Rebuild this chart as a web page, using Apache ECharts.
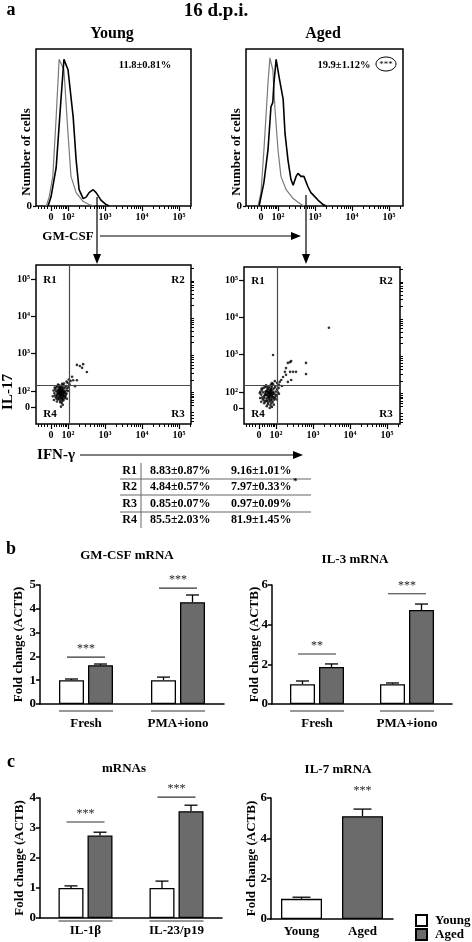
<!DOCTYPE html>
<html><head><meta charset="utf-8">
<script src="https://cdn.jsdelivr.net/npm/echarts@6/dist/echarts.min.js"></script>
<style>html,body{margin:0;padding:0;background:#fff}#c{width:472px;height:942px}</style>
</head><body><div id="c"></div>
<script>
const FONT = "'Liberation Serif','Times New Roman',serif";

// ---------- Panel a : GM-CSF histograms (x: log decades, y: % of max) ----------
const histYoungIso = [[1.41,0],[1.49,6],[1.59,20],[1.68,60],[1.76,99],[1.81,100],[1.89,92],[2.00,49],[2.08,20],[2.22,9],[2.41,3],[2.57,1],[2.70,0]];
const histYoungStain = [[1.46,0],[1.54,6],[1.68,26],[1.81,72],[1.89,99],[1.92,100],[2.00,92],[2.14,60],[2.22,31],[2.30,11],[2.41,5],[2.49,6],[2.57,9],[2.68,11],[2.76,9],[2.89,4],[3.03,1],[3.11,0]];
const histAgedIso = [[1.46,0],[1.54,9],[1.62,38],[1.73,83],[1.78,100],[1.86,92],[1.92,65],[2.00,38],[2.08,20],[2.22,11],[2.41,5],[2.57,2],[2.70,0]];
const histAgedStain = [[1.49,0],[1.62,16],[1.73,38],[1.81,67],[1.86,70],[1.89,83],[1.95,99],[1.97,100],[2.03,87],[2.14,72],[2.19,49],[2.27,31],[2.35,18],[2.41,14],[2.49,20],[2.54,22],[2.62,20],[2.70,20],[2.81,13],[2.89,9],[2.97,7],[3.08,4],[3.22,1],[3.30,0]];
const histPct = ['11.8\u00b10.81%', '19.9\u00b11.12%'];

// flow axis ticks
const flowTickVals = [1.54, 2, 3, 4, 5];
const flowTickLabels = ['0', '10\u00b2', '10\u00b3', '10\u2074', '10\u2075'];
const dotYTickVals = [1.57, 2, 3, 4, 5];
const linMinor = [1.2, 1.28, 1.36, 1.44, 1.62, 1.69, 1.76, 1.82, 1.87, 1.92, 1.96];
const logMult = [2, 3, 4, 5, 6, 7, 8, 9];

// ---------- Panel a : IL-17 vs IFN-g dot plots (log decades) ----------
const dotYoung = [[1.82,1.96],[1.78,2.01],[1.86,1.91],[1.75,1.94],[1.89,1.99],[1.80,1.88],[1.84,2.05],[1.73,2.03],[1.87,1.84],[1.70,1.90],
[1.92,1.95],[1.79,2.08],[1.76,1.85],[1.85,1.98],[1.81,1.93],[1.72,1.97],[1.90,1.87],[1.83,2.02],[1.77,2.10],[1.88,2.06],
[1.68,1.99],[1.94,2.01],[1.80,2.13],[1.74,1.81],[1.86,1.79],[1.79,1.91],[1.91,2.09],[1.66,2.05],[1.83,1.89],[1.77,1.95],
[1.96,1.93],[1.84,1.82],[1.71,1.86],[1.80,2.00],[1.88,1.94],[1.69,2.10],[1.85,2.11],[1.76,2.15],[1.93,1.85],[1.82,1.78],
[1.63,1.94],[1.98,2.07],[1.73,1.77],[1.87,2.16],[1.67,1.83],[1.85,1.73],[1.81,2.04],[1.74,2.00],[1.90,1.97],[1.78,1.89],
[1.65,1.88],[1.95,2.13],[1.79,1.74],[1.71,2.13],[1.92,1.81],[1.76,2.06],[1.84,2.19],[1.61,2.01],[2.00,2.00],[1.80,1.82],
[1.88,1.76],[1.69,1.79],[1.94,1.90],[1.73,2.17],[2.02,2.11],[1.79,1.70],[1.64,2.09],[1.89,2.20],[1.77,1.79],[1.83,1.68],
[1.86,2.00],[1.75,1.92],[1.81,1.86],[1.78,1.98],[1.84,1.94],[1.87,1.88],[1.72,1.93],[1.80,1.96],[1.83,2.08],[1.76,2.03],
[1.59,1.86],[1.97,1.79],[1.86,1.63],[1.70,1.72],[1.81,1.58],[1.62,1.76],
[1.99,2.22],[2.04,2.18],[1.96,2.25],[2.07,2.27],[2.02,2.31],[2.11,2.38],[2.14,2.29],[2.24,2.29],[2.19,2.13],
[2.24,2.70],[2.32,2.67],[2.41,2.72],[2.38,2.62],[2.51,2.51]];
const dotAged = [[1.84,1.95],[1.79,2.00],[1.89,1.90],[1.75,1.93],[1.92,1.99],[1.81,1.86],[1.86,2.05],[1.72,2.02],[1.90,1.83],[1.68,1.89],
[1.96,1.94],[1.80,2.09],[1.76,1.83],[1.87,1.97],[1.83,1.91],[1.71,1.96],[1.94,1.86],[1.85,2.02],[1.77,2.11],[1.91,2.06],
[1.65,1.99],[1.99,2.01],[1.82,2.14],[1.74,1.78],[1.88,1.77],[1.80,1.90],[1.95,2.10],[1.62,2.06],[1.85,1.87],[1.78,1.95],
[2.01,1.92],[1.86,1.80],[1.69,1.84],[1.82,2.00],[1.90,1.94],[1.66,2.11],[1.88,2.12],[1.75,2.16],[1.97,1.83],[1.83,1.75],
[1.60,1.93],[2.03,2.07],[1.71,1.74],[1.89,2.17],[1.64,1.81],[1.87,1.70],[1.84,2.04],[1.73,2.00],[1.93,1.97],[1.79,1.87],
[1.63,1.86],[1.98,2.14],[1.79,1.71],[1.70,2.13],[1.95,1.79],[1.77,2.06],[1.86,2.20],[1.58,2.01],[2.05,1.99],[1.81,1.80],
[1.91,1.73],[1.67,1.77],[1.99,1.88],[1.73,2.18],[2.07,2.11],[1.78,1.67],[1.61,2.09],[1.92,2.21],[1.76,1.76],[1.85,1.64],
[1.88,2.00],[1.74,1.91],[1.82,1.84],[1.80,1.98],[1.87,1.93],[1.90,1.88],[1.70,1.92],[1.83,1.96],[1.86,2.08],[1.76,2.03],
[1.57,1.84],[2.02,1.80],[1.89,1.60],[1.68,1.70],[1.83,1.57],[1.60,1.74],[1.94,1.66],[1.75,1.62],[2.08,1.95],[1.56,1.97],
[2.08,2.19],[2.03,2.24],[2.16,2.16],[1.97,2.29],[1.89,2.24],[2.10,2.27],
[1.92,2.99],[2.14,2.32],[2.19,2.40],[2.24,2.54],[2.27,2.64],[2.32,2.78],[2.38,2.80],[2.41,2.83],[2.27,2.46],[2.38,2.54],
[2.46,2.54],[2.54,2.54],[2.32,2.27],[2.41,2.32],[2.81,2.78],[2.81,2.48],[3.43,3.72]];
const gateYoung = {x: 2.03, y: 2.16};
const gateAged = {x: 2.03, y: 2.19};

// quadrant table
const tableRows = ['R1', 'R2', 'R3', 'R4'];
const tableYoung = ['8.83\u00b10.87%', '4.84\u00b10.57%', '0.85\u00b10.07%', '85.5\u00b12.03%'];
const tableAged = ['9.16\u00b11.01%', '7.97\u00b10.33%', '0.97\u00b10.09%', '81.9\u00b11.45%'];
const tableAgedMark = ['', '*', '', ''];

// ---------- Panel b ----------
const bCats = ['Fresh', 'PMA+iono'];
const gmYoung = [1.0, 1.0], gmYoungErr = [0.05, 0.13];
const gmAged = [1.63, 4.28], gmAgedErr = [0.05, 0.30];
const gmSig = [[0, 1.97, '***'], [1, 4.87, '***']];
const il3Young = [1.0, 1.0], il3YoungErr = [0.16, 0.06];
const il3Aged = [1.87, 4.74], il3AgedErr = [0.15, 0.30];
const il3Sig = [[0, 2.52, '**'], [1, 5.56, '***']];

// ---------- Panel c ----------
const cCats = ['IL-1\u03b2', 'IL-23/p19'];
const mYoung = [1.0, 1.0], mYoungErr = [0.07, 0.23];
const mAged = [2.75, 3.56], mAgedErr = [0.11, 0.20];
const mSig = [[0, 3.2, '***'], [1, 4.03, '***']];
const il7Cats = ['Young', 'Aged'];
const il7Vals = [1.0, 5.1], il7Err = [0.08, 0.35];
const il7Sig = [[1, 5.94, '***']];

// ================= build option =================
const AGED_COLOR = '#6b6b6b';
const grids = [
  {left: 36, top: 49, width: 155, height: 157, show: true, borderColor: '#000', borderWidth: 1.5},
  {left: 246, top: 49, width: 157, height: 157, show: true, borderColor: '#000', borderWidth: 1.5},
  {left: 36, top: 265, width: 155, height: 159, show: true, borderColor: '#000', borderWidth: 1.5},
  {left: 244, top: 267, width: 156, height: 157, show: true, borderColor: '#000', borderWidth: 1.5},
  {left: 40, top: 585, width: 184, height: 119},
  {left: 272, top: 585, width: 180, height: 119},
  {left: 40, top: 798, width: 182, height: 120},
  {left: 271, top: 798, width: 122, height: 121}
];
const xAxes = [], yAxes = [], series = [];
const lblStyle = {fontFamily: FONT, fontWeight: 'bold', color: '#000'};
function minorList(min, max) {
  const out = linMinor.slice();
  [2, 3, 4, 5].forEach(d => logMult.forEach(k => out.push(d + Math.log10(k))));
  return out.filter(v => v > min && v < max);
}
function flowLabel(v) { const i = flowTickVals.indexOf(v); return i >= 0 ? flowTickLabels[i] : ''; }
function dotYLabel(v) { const i = dotYTickVals.indexOf(v); return i >= 0 ? flowTickLabels[i] : ''; }
function addFlowX(gi, min, max) {
  xAxes.push({type: 'value', gridIndex: gi, min, max, position: 'bottom', axisLine: {show: false}, splitLine: {show: false},
    axisTick: {show: true, customValues: flowTickVals, length: 5, lineStyle: {color: '#000', width: 1.2}},
    axisLabel: Object.assign({show: true, customValues: flowTickVals, formatter: flowLabel, fontSize: 10, margin: 6}, lblStyle)});
  const main = xAxes.length - 1;
  xAxes.push({type: 'value', gridIndex: gi, min, max, position: 'bottom', axisLine: {show: false}, splitLine: {show: false},
    axisTick: {show: true, customValues: minorList(min, max), length: 3, lineStyle: {color: '#000', width: 1}}, axisLabel: {show: false}});
  return main;
}
function addDotY(gi, min, max) {
  yAxes.push({type: 'value', gridIndex: gi, min, max, axisLine: {show: false}, splitLine: {show: false},
    axisTick: {show: true, customValues: dotYTickVals, length: 5, lineStyle: {color: '#000', width: 1.2}},
    axisLabel: Object.assign({show: true, customValues: dotYTickVals, formatter: dotYLabel, fontSize: 10, margin: 6}, lblStyle)});
  const main = yAxes.length - 1;
  yAxes.push({type: 'value', gridIndex: gi, min, max, axisLine: {show: false}, splitLine: {show: false},
    axisTick: {show: true, customValues: minorList(min, max), length: 3, lineStyle: {color: '#000', width: 1}}, axisLabel: {show: false}});
  return main;
}
function addHistY(gi) {
  yAxes.push({type: 'value', gridIndex: gi, min: 0, max: 106, axisLine: {show: false}, splitLine: {show: false},
    axisTick: {show: true, customValues: [0], length: 3, lineStyle: {color: '#000', width: 1.2}},
    axisLabel: Object.assign({show: true, customValues: [0], fontSize: 11, margin: 4}, lblStyle)});
  return yAxes.length - 1;
}
function lineSeries(xi, yi, data, color, w) {
  return {type: 'line', xAxisIndex: xi, yAxisIndex: yi, data, showSymbol: false, smooth: false, silent: true,
    lineStyle: {color, width: w}, z: color === '#000' ? 3 : 2};
}
// histograms
[[0, 5.324, histYoungIso, histYoungStain], [1, 5.38, histAgedIso, histAgedStain]].forEach(([gi, max, iso, st]) => {
  const xi = addFlowX(gi, 1.135, max);
  const yi = addHistY(gi);
  series.push(lineSeries(xi, yi, iso, '#7a7a7a', 1.2));
  series.push(lineSeries(xi, yi, st, '#000', 1.6));
});
// dot plots
[[2, 5.324, 1.115, 5.378, dotYoung, gateYoung], [3, 5.35, 1.142, 5.35, dotAged, gateAged]].forEach(([gi, xmax, ymin, ymax, pts, gate]) => {
  const xi = addFlowX(gi, 1.135, xmax);
  const yi = addDotY(gi, ymin, ymax);
  series.push({type: 'scatter', xAxisIndex: xi, yAxisIndex: yi, data: pts, symbolSize: 2.6, silent: true,
    itemStyle: {color: '#000'},
    markLine: {silent: true, symbol: 'none', label: {show: false}, animation: false,
      lineStyle: {color: '#4a4a4a', width: 1.2, type: 'solid'},
      data: [{xAxis: gate.x}, {yAxis: gate.y}]}});
});
// bar charts
function addBarAxes(gi, cats, max, interval, nameGap, labelMargin) {
  xAxes.push({type: 'category', gridIndex: gi, data: cats, axisTick: {show: false},
    axisLine: {lineStyle: {color: '#000', width: 1.5}},
    axisLabel: Object.assign({fontSize: 13, margin: labelMargin}, lblStyle)});
  yAxes.push({type: 'value', gridIndex: gi, min: 0, max, interval, splitLine: {show: false},
    axisLine: {show: true, lineStyle: {color: '#000', width: 1.5}},
    axisTick: {show: true, length: 4, lineStyle: {color: '#000', width: 1.5}},
    axisLabel: Object.assign({fontSize: 13, margin: 4}, lblStyle),
    name: 'Fold change (ACTB)', nameLocation: 'middle', nameGap, nameMoveOverlap: false,
    nameTextStyle: {fontFamily: FONT, fontWeight: 'bold', fontSize: 13, color: '#000'}});
  return [xAxes.length - 1, yAxes.length - 1];
}
function errSeries(xi, yi, vals, errs, offset, capW) {
  return {type: 'custom', xAxisIndex: xi, yAxisIndex: yi, clip: false, silent: true, z: 4,
    data: vals.map((v, i) => (v === '-' ? null : [i, v, errs[i]])).filter(d => d),
    renderItem: (p, api) => {
      const c0 = api.coord([api.value(0), api.value(1)]);
      const c1 = api.coord([api.value(0), api.value(1) + api.value(2)]);
      const cx = c0[0] + offset;
      return {type: 'group', children: [
        {type: 'line', shape: {x1: cx, y1: c0[1], x2: cx, y2: c1[1]}, style: {stroke: '#000', lineWidth: 1.3}},
        {type: 'line', shape: {x1: cx - capW / 2, y1: c1[1], x2: cx + capW / 2, y2: c1[1]}, style: {stroke: '#000', lineWidth: 1.3}}
      ]};
    }};
}
function sigSeries(xi, yi, sig, halfW, offset) {
  return {type: 'custom', xAxisIndex: xi, yAxisIndex: yi, clip: false, silent: true, z: 4,
    data: sig.map(s => [s[0], s[1]]),
    renderItem: (p, api) => {
      const c = api.coord([api.value(0), api.value(1)]);
      const cx = c[0] + offset;
      const ch = [{type: 'text', x: cx, y: c[1] - 2, style: {text: sig[p.dataIndex][2], align: 'center', verticalAlign: 'bottom',
        fontFamily: FONT, fontSize: 12, fill: '#222'}}];
      if (halfW > 0) ch.push({type: 'line', shape: {x1: cx - halfW, y1: c[1], x2: cx + halfW, y2: c[1]}, style: {stroke: '#333', lineWidth: 1.2}});
      return {type: 'group', children: ch};
    }};
}
function underSeries(xi, yi, n, halfW, dy) {
  const d = []; for (let i = 0; i < n; i++) d.push([i, 0]);
  return {type: 'custom', xAxisIndex: xi, yAxisIndex: yi, clip: false, silent: true, z: 4, data: d,
    renderItem: (p, api) => {
      const c = api.coord([api.value(0), 0]);
      return {type: 'line', shape: {x1: c[0] - halfW, y1: c[1] + dy, x2: c[0] + halfW, y2: c[1] + dy}, style: {stroke: '#333', lineWidth: 1.2}};
    }};
}
const BW = 25, GAP = 4, OFF = (BW + GAP) / 2;
function groupedBars(gi, cats, young, youngErr, aged, agedErr, sig, max, interval, nameGap, labelMargin, underDy) {
  const [xi, yi] = addBarAxes(gi, cats, max, interval, nameGap, labelMargin);
  series.push({type: 'bar', name: 'Young', xAxisIndex: xi, yAxisIndex: yi, data: young, barWidth: BW, barGap: (GAP / BW * 100) + '%',
    itemStyle: {color: '#fff', borderColor: '#000', borderWidth: 1.3}, silent: true});
  series.push({type: 'bar', name: 'Aged', xAxisIndex: xi, yAxisIndex: yi, data: aged, barWidth: BW, barGap: (GAP / BW * 100) + '%',
    itemStyle: {color: AGED_COLOR, borderColor: '#000', borderWidth: 1.3}, silent: true});
  series.push(errSeries(xi, yi, young, youngErr, -OFF, 13));
  series.push(errSeries(xi, yi, aged, agedErr, OFF, 13));
  series.push(sigSeries(xi, yi, sig, 19, 0));
  series.push(underSeries(xi, yi, cats.length, BW + GAP / 2, underDy));
}
groupedBars(4, bCats, gmYoung, gmYoungErr, gmAged, gmAgedErr, gmSig, 5, 1, 15, 13, 7);
groupedBars(5, bCats, il3Young, il3YoungErr, il3Aged, il3AgedErr, il3Sig, 6, 2, 11, 13, 7);
groupedBars(6, cCats, mYoung, mYoungErr, mAged, mAgedErr, mSig, 4, 1, 14, 6, 3);
(function () {
  const [xi, yi] = addBarAxes(7, il7Cats, 6, 2, 13, 6);
  const yv = il7Vals.map((v, i) => (i === 0 ? v : '-'));
  const av = il7Vals.map((v, i) => (i === 1 ? v : '-'));
  series.push({type: 'bar', name: 'Young', xAxisIndex: xi, yAxisIndex: yi, data: yv, barWidth: 41, barGap: '-100%',
    itemStyle: {color: '#fff', borderColor: '#000', borderWidth: 1.3}, silent: true});
  series.push({type: 'bar', name: 'Aged', xAxisIndex: xi, yAxisIndex: yi, data: av, barWidth: 41, barGap: '-100%',
    itemStyle: {color: AGED_COLOR, borderColor: '#000', borderWidth: 1.3}, silent: true});
  series.push(errSeries(xi, yi, il7Vals, il7Err, 0, 18));
  series.push(sigSeries(xi, yi, il7Sig, 0, 0));
})();

// ---------- annotations ----------
function T(text, x, y, size, opts) {
  return Object.assign({type: 'text', x, y, silent: true, style: Object.assign({text, fontFamily: FONT, fontWeight: 'bold', fontSize: size,
    fill: '#000', align: 'center', verticalAlign: 'middle'}, (opts && opts.style) || {})}, (opts && opts.el) || {});
}
function L(x1, y1, x2, y2, w, c) { return {type: 'line', silent: true, shape: {x1, y1, x2, y2}, style: {stroke: c || '#000', lineWidth: w || 1.2}}; }
function P(points) { return {type: 'polygon', silent: true, shape: {points}, style: {fill: '#000'}}; }
const ROT = {el: {rotation: Math.PI / 2}};
const g = [
  T('a', 11, 10, 18),
  T('16 d.p.i.', 216, 11, 19),
  T('Young', 112, 34, 16),
  T('Aged', 323, 34, 16),
  T(histPct[0], 145, 65, 10.5),
  T(histPct[1], 344, 65, 10.5),
  {type: 'ellipse', silent: true, shape: {cx: 386, cy: 64, rx: 10, ry: 7}, style: {fill: 'none', stroke: '#000', lineWidth: 1}},
  T('***', 386, 65, 9, {style: {fontWeight: 'normal'}}),
  T('Number of cells', 27, 152, 13, ROT),
  T('Number of cells', 237, 152, 13, ROT),
  T('GM-CSF', 68, 237, 13),
  L(100, 236, 293, 236, 1.2), P([[301, 236], [291, 232], [291, 240]]),
  L(97, 197, 97, 256, 1.2), P([[97, 264], [93, 254], [101, 254]]),
  L(306, 195, 306, 256, 1.2), P([[306, 264], [302, 254], [310, 254]]),
  T('R1', 50, 280, 11), T('R2', 178, 280, 11), T('R4', 50, 414, 11), T('R3', 178, 414, 11),
  T('R1', 258, 281, 11), T('R2', 386, 281, 11), T('R4', 258, 414, 11), T('R3', 386, 414, 11),
  T('IL-17', 8, 392, 15, ROT),
  T('IFN-\u03b3', 56, 455, 15),
  L(80, 455, 294, 455, 1.2), P([[303, 455], [293, 451], [293, 459]]),
  L(120, 479, 311, 479, 1, '#666'), L(120, 495, 311, 495, 1, '#666'), L(120, 512, 311, 512, 1, '#666'),
  L(141, 463, 141, 528, 1, '#666'),
  T('b', 11, 549, 18),
  T('GM-CSF mRNA', 127, 556, 13),
  T('IL-3 mRNA', 355, 560, 13),
  T('c', 11, 762, 18),
  T('mRNAs', 124, 769, 13),
  T('IL-7 mRNA', 338, 770, 13)
];
const rowY = [471, 487, 504, 520];
tableRows.forEach((r, i) => {
  g.push(T(r, 137, rowY[i], 12, {style: {align: 'right'}}));
  g.push(T(tableYoung[i], 150, rowY[i], 12, {style: {align: 'left'}}));
  g.push(T(tableAged[i], 231, rowY[i], 12, {style: {align: 'left'}}));
  if (tableAgedMark[i]) g.push(T(tableAgedMark[i], 293, rowY[i] - 5, 9, {style: {align: 'left'}}));
});

const option = {
  animation: false,
  backgroundColor: '#fff',
  grid: grids,
  xAxis: xAxes,
  yAxis: yAxes,
  series,
  legend: {data: ['Young', 'Aged'], orient: 'vertical', left: 415, top: 914, itemWidth: 11, itemHeight: 11, itemGap: 1,
    icon: 'rect', selectedMode: false, padding: 0,
    textStyle: {fontFamily: FONT, fontWeight: 'bold', fontSize: 13, color: '#000', padding: [0, 0, 0, 3]}},
  graphic: g
};
const chart = echarts.init(document.getElementById('c'), null, {renderer: 'canvas'});
chart.setOption(option);
</script></body></html>
